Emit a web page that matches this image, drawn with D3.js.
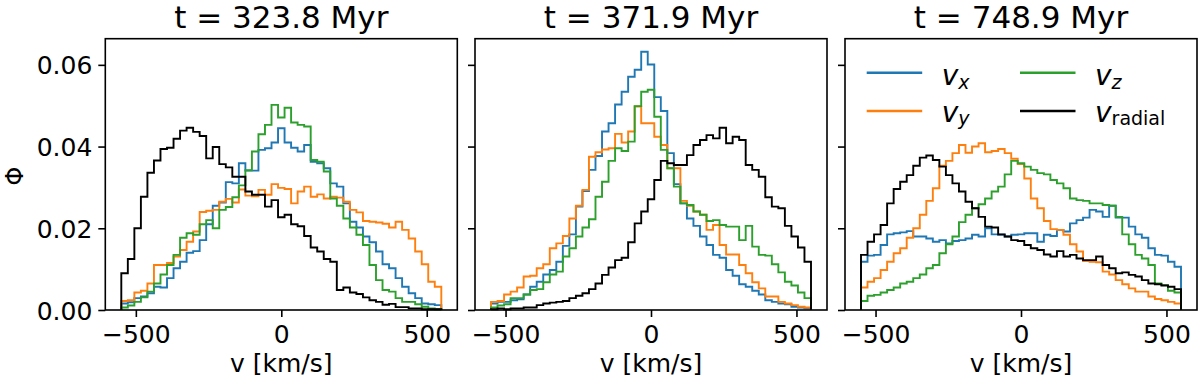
<!DOCTYPE html>
<html><head><meta charset="utf-8">
<script src="https://cdn.jsdelivr.net/npm/d3@7"></script>
<style>
body{margin:0;background:#fff}
svg{display:block}
text{font-family:"DejaVu Sans",sans-serif;fill:#000}
</style>
</head><body>
<svg id="c" width="1200" height="384"></svg>
<script>
// ---- data (Φ values in units of 1e-2, 49 bins from -550 to 550 km/s) ----
const binEdges = d3.range(50).map(i => -550 + i * 1100 / 49);
const titles = ["t = 323.8 Myr", "t = 371.9 Myr", "t = 748.9 Myr"];
const xTicks = [-500, 0, 500];
const yTicks = [0, 0.02, 0.04, 0.06];
const yTickLabels = ["0.00", "0.02", "0.04", "0.06"];
const seriesSubs = ["x", "y", "z", "radial"];
const colors = ["#1f77b4", "#ff7f0e", "#2ca02c", "#000000"];

const p1_vx = [0.16,0.19,0.29,0.33,0.41,0.57,0.55,0.78,1.02,1.18,1.40,1.44,1.71,2.10,2.55,2.63,3.13,3.10,3.59,3.41,3.41,3.92,3.96,4.10,4.45,4.10,3.97,3.88,4.04,3.63,3.59,3.47,3.10,3.02,2.61,2.16,2.02,1.80,1.66,1.43,1.12,1.02,0.78,0.57,0.41,0.29,0.16,0.14,0.12];
const p1_vy = [0.22,0.24,0.43,0.47,0.65,1.10,1.10,1.15,1.31,1.47,1.67,1.92,2.40,2.43,2.45,2.65,2.72,2.63,2.95,2.80,2.78,2.94,2.82,3.08,2.99,2.96,2.61,2.90,3.02,2.77,2.83,2.73,2.77,2.75,2.65,2.45,2.39,2.18,2.16,2.14,2.11,2.02,2.16,1.96,1.75,1.43,1.12,0.69,0.57];
const p1_vz = [0.06,0.11,0.20,0.31,0.45,0.65,0.87,1.10,1.35,1.77,1.88,1.84,2.10,2.20,2.00,2.45,2.52,2.76,3.05,3.42,3.88,4.30,4.53,5.02,4.71,4.95,4.59,4.53,4.49,3.67,3.63,3.39,2.73,2.55,2.24,2.02,1.84,1.59,1.10,0.73,0.49,0.45,0.29,0.20,0.20,0.14,0.08,0.04,0.02];
const p1_vr = [0.90,1.25,2.00,2.77,3.36,3.66,3.94,3.97,4.19,4.39,4.46,4.36,4.26,3.71,3.99,3.57,3.49,3.26,3.26,2.90,2.82,2.82,2.53,2.69,2.27,2.33,2.10,2.05,1.81,1.53,1.43,1.25,1.18,0.49,0.55,0.43,0.39,0.31,0.24,0.20,0.13,0.15,0.07,0.07,0.04,0.04,0.02,0.02,0.02];

const p2_vx = [0.16,0.20,0.20,0.24,0.26,0.38,0.57,0.69,0.87,0.98,1.18,1.57,1.85,2.53,2.91,3.43,3.77,4.37,4.57,5.03,5.34,5.71,5.88,6.32,6.01,5.21,4.87,3.84,3.08,2.61,2.24,2.06,1.80,1.59,1.35,1.28,0.98,0.84,0.63,0.57,0.47,0.38,0.24,0.20,0.16,0.14,0.08,0.06,0.04];
const p2_vy = [0.20,0.22,0.38,0.45,0.55,0.82,0.84,1.02,1.12,1.51,1.63,1.81,2.24,2.55,2.94,3.75,3.86,3.93,3.96,4.31,4.10,4.37,4.98,4.57,4.57,4.24,4.04,3.47,3.47,2.67,2.55,2.41,2.33,1.96,2.08,1.59,1.36,1.36,1.10,0.90,0.68,0.53,0.33,0.33,0.20,0.16,0.12,0.08,0.06];
const p2_vz = [0.06,0.11,0.14,0.29,0.29,0.38,0.49,0.51,0.68,0.87,0.94,1.31,1.51,1.80,2.02,2.22,2.77,3.14,3.65,3.96,3.89,4.12,4.99,5.34,5.39,4.73,3.92,3.47,3.02,2.61,2.57,2.41,2.33,2.18,2.20,2.08,2.04,2.04,1.71,2.06,1.55,1.35,1.33,1.12,0.92,0.69,0.60,0.43,0.29];
const p2_vr = [0.02,0.04,0.02,0.04,0.04,0.06,0.06,0.12,0.16,0.18,0.20,0.22,0.29,0.35,0.41,0.51,0.65,0.86,1.04,1.22,1.28,1.66,2.12,2.41,2.71,3.18,3.65,3.59,3.55,3.55,3.79,4.04,4.16,4.28,4.20,4.46,4.08,4.24,4.16,3.55,3.43,3.26,2.76,2.53,2.49,2.06,1.80,1.53,1.18];

const p3_vx = [1.18,1.33,1.35,1.59,1.85,1.88,1.90,1.93,1.80,1.80,1.75,1.67,1.71,1.63,1.69,1.71,1.75,1.84,1.80,2.00,1.85,1.84,1.80,1.84,1.85,1.88,1.88,1.67,1.84,1.81,1.96,1.92,2.12,2.20,2.26,2.45,2.41,2.28,2.55,2.26,2.26,2.04,1.85,1.77,1.51,1.35,1.33,1.18,1.06];
const p3_vy = [0.55,0.69,0.78,0.98,1.18,1.39,1.51,1.77,2.00,2.33,2.67,2.98,3.53,3.65,3.84,4.04,3.85,4.00,4.08,3.86,3.89,3.94,3.84,3.70,3.57,3.22,2.73,2.49,2.18,1.98,1.96,1.84,1.61,1.43,1.20,1.18,1.17,0.94,0.87,0.73,0.63,0.53,0.45,0.45,0.33,0.27,0.24,0.20,0.16];
const p3_vz = [0.22,0.35,0.37,0.43,0.49,0.55,0.65,0.69,0.78,0.87,1.02,1.10,1.39,1.61,1.80,2.15,2.33,2.49,2.59,2.73,2.90,3.02,3.32,3.65,3.59,3.51,3.43,3.35,3.32,3.18,3.10,2.98,2.73,2.69,2.67,2.61,2.61,2.57,2.55,2.28,1.85,1.61,1.35,1.26,1.10,0.65,0.61,0.47,0.43];
const p3_vr = [1.35,1.67,1.85,2.08,2.61,2.96,3.14,3.30,3.53,3.73,3.78,3.67,3.51,3.30,3.10,2.90,2.65,2.49,2.28,2.04,2.02,1.85,1.80,1.71,1.69,1.59,1.51,1.47,1.36,1.31,1.44,1.31,1.35,1.26,1.22,1.22,1.31,1.10,1.02,0.90,0.92,0.86,0.82,0.73,0.65,0.63,0.60,0.57,0.51];

const panelsData = [
  [p1_vx, p1_vy, p1_vz, p1_vr],
  [p2_vx, p2_vy, p2_vz, p2_vr],
  [p3_vx, p3_vy, p3_vz, p3_vr]
];

// ---- layout ----
const svg = d3.select("#c");
const panelLefts = [105.3, 475, 845];
const panelW = 352, plotTop = 38.7, plotBottom = 310;
const yScale = d3.scaleLinear().domain([0, 0.0664]).range([plotBottom, plotTop]);
const fmtMinus = d => d < 0 ? "\u2212" + Math.abs(d) : String(d);

panelsData.forEach((series, pi) => {
  const left = panelLefts[pi];
  const xScale = d3.scaleLinear().domain([-605, 605]).range([left, left + panelW]);
  const g = svg.append("g");

  series.forEach((vals, si) => {
    const pts = [[binEdges[0], 0]];
    vals.forEach((v, i) => {
      pts.push([binEdges[i], v * 0.01]);
      pts.push([binEdges[i + 1], v * 0.01]);
    });
    pts.push([binEdges[binEdges.length - 1], 0]);
    const line = d3.line().x(d => xScale(d[0])).y(d => yScale(d[1]));
    g.append("path").attr("d", line(pts)).attr("fill", "none")
      .attr("stroke", colors[si]).attr("stroke-width", 1.9)
      .attr("stroke-linejoin", "miter");
  });

  // frame
  g.append("rect").attr("x", left).attr("y", plotTop).attr("width", panelW)
    .attr("height", plotBottom - plotTop).attr("fill", "none")
    .attr("stroke", "#000").attr("stroke-width", 1.6);

  // x axis
  const xa = g.append("g").attr("transform", `translate(0,${plotBottom})`)
    .call(d3.axisBottom(xScale).tickValues(xTicks).tickSize(7).tickPadding(8).tickFormat(fmtMinus));
  xa.select(".domain").remove();
  xa.selectAll("line").attr("stroke", "#000").attr("stroke-width", 1.6);
  xa.selectAll("text").attr("font-size", 25).attr("font-family", "DejaVu Sans").attr("fill", "#000");

  // y axis
  const ya = g.append("g").attr("transform", `translate(${left},0)`)
    .call(d3.axisLeft(yScale).tickValues(yTicks).tickSize(7).tickPadding(6)
      .tickFormat((d, i) => pi === 0 ? yTickLabels[i] : ""));
  ya.select(".domain").remove();
  ya.selectAll("line").attr("stroke", "#000").attr("stroke-width", 1.6);
  ya.selectAll("text").attr("font-size", 25).attr("font-family", "DejaVu Sans").attr("fill", "#000").attr("dy", "0.36em");

  // title
  g.append("text").attr("x", left + panelW / 2).attr("y", 27.5)
    .attr("text-anchor", "middle").attr("font-size", 31).text(titles[pi]);

  // x label
  g.append("text").attr("x", left + panelW / 2).attr("y", 371.5)
    .attr("text-anchor", "middle").attr("font-size", 25).text("v [km/s]");
});

// y label
svg.append("text").attr("transform", "translate(22.5,176) rotate(-90)")
  .attr("text-anchor", "middle").attr("font-size", 24).text("\u03A6");

// legend (columns: vx, vy | vz, vradial)
const legPos = [
  {lx: 866.7, ly: 72.7, tx: 941.7, ty: 85},
  {lx: 866.7, ly: 111, tx: 941.7, ty: 121.7},
  {lx: 1020, ly: 72.7, tx: 1095, ty: 85},
  {lx: 1020, ly: 111, tx: 1095, ty: 121.7}
];
const leg = svg.append("g");
seriesSubs.forEach((s, i) => {
  const p = legPos[i];
  leg.append("line").attr("x1", p.lx).attr("x2", p.lx + 55.5)
    .attr("y1", p.ly).attr("y2", p.ly).attr("stroke", colors[i]).attr("stroke-width", 2.4);
  const t = leg.append("text").attr("x", p.tx).attr("y", p.ty).attr("font-size", 28);
  t.append("tspan").attr("font-style", "italic").text("v");
  t.append("tspan").attr("font-size", 19).attr("dy", 3.5)
    .attr("font-style", s === "radial" ? "normal" : "italic").text(s);
});
</script>
</body></html>
